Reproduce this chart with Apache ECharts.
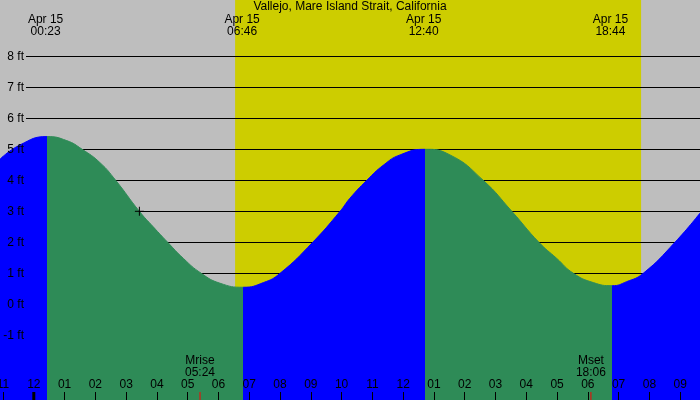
<!DOCTYPE html>
<html lang="en">
<head>
    <meta charset="UTF-8">
    <title>Vallejo tides</title>
    <script src="https://cdn.jsdelivr.net/npm/echarts@6/dist/echarts.min.js"></script>
</head>
<style>
    html, body {
        margin: 0;
        height: 100%;
    }
</style>
<body>
<div id="main" style="width: 700px;height:400px"></div>
<script type="text/javascript">
    // tide curve (hours from midnight Apr 15, feet)
    var tideHours = [-1.10, -0.45, 0.43, 1.07, 1.57, 2.15, 2.66, 3.43, 3.88, 4.35, 4.86, 5.44, 6.05, 6.80,
        7.46, 8.00, 9.06, 9.95, 10.27, 10.82, 11.36, 11.90, 12.71, 13.52, 14.60, 15.53, 16.41, 16.99,
        17.53, 18.18, 18.79, 19.26, 19.80, 20.83, 21.65];
    var tideFeet = [4.68, 5.14, 5.41, 5.28, 5.00, 4.57, 4.00, 3.00, 2.50, 2.00, 1.48, 1.00, 0.68, 0.55,
        0.70, 1.00, 2.00, 3.00, 3.42, 4.00, 4.49, 4.82, 5.00, 4.82, 4.00, 3.00, 2.00, 1.48,
        1.00, 0.70, 0.60, 0.73, 1.00, 2.00, 2.95];
    var turnHours = [0.43, 6.80, 12.71, 18.79];          // where fill switches rising/falling
    var extremeTimes = ['00:23', '06:46', '12:40', '18:44'];
    var extremeDate = 'Apr 15';
    var dayBand = [6.54, 19.73];                          // sunrise .. sunset
    var moonEvents = [['Mrise', '05:24'], ['Mset', '18:06']];
    var nowPoint = [3.43, 3.0];
    var feetLabels = [-1, 0, 1, 2, 3, 4, 5, 6, 7, 8];
    var feetLines = [1, 2, 3, 4, 5, 6, 7, 8];
    var hourTicks = [-1, 0, 1, 2, 3, 4, 5, 6, 7, 8, 9, 10, 11, 12, 13, 14, 15, 16, 17, 18, 19, 20, 21];
    var hourLabels = ['11', '12', '01', '02', '03', '04', '05', '06', '07', '08', '09', '10', '11',
        '12', '01', '02', '03', '04', '05', '06', '07', '08', '09'];

    var BLUE = '#0000FF', GREEN = '#2E8B57', GREY = '#BEBEBE', DAY = '#CDCD00';
    var FONT = 'Liberation Sans';

    // axis extents (31 px per foot, 30.78 px per hour, midnight at 33.8 px)
    var xMin = -33.8 / 30.78, xMax = (700 - 33.8) / 30.78;
    var yMax = 304.3 / 31, yMin = (304.3 - 400) / 31;
    var gridStart = (26 - 33.8) / 30.78;

    function toHour(s) {
        var p = s.split(':');
        return +p[0] + p[1] / 60;
    }

    var tideData = tideHours.map(function (h, i) { return [h, tideFeet[i]]; });

    var pieces = [];
    var edges = [-Infinity].concat(turnHours, [Infinity]);
    for (var i = 0; i < edges.length - 1; i++) {
        var pc = {color: i % 2 === 0 ? BLUE : GREEN};
        if (edges[i] !== -Infinity) pc.gte = edges[i];
        if (edges[i + 1] !== Infinity) pc.lt = edges[i + 1];
        pieces.push(pc);
    }

    var txt = {color: '#000', fontFamily: FONT, fontSize: 12};

    var myChart = echarts.init(document.getElementById('main'));
    var option = {
        animation: false,
        backgroundColor: GREY,
        textStyle: {fontFamily: FONT},
        title: {
            text: 'Vallejo, Mare Island Strait, California',
            left: 'center', top: 0, padding: [1, 5, 5, 5],
            textStyle: {color: '#000', fontFamily: FONT, fontSize: 12, fontWeight: 'normal'}
        },
        grid: {left: 0, right: 0, top: 0, bottom: 0, containLabel: false, outerBoundsMode: 'none'},
        xAxis: {
            type: 'value', min: xMin, max: xMax,
            axisLine: {show: false, onZero: false},
            splitLine: {show: false},
            axisTick: {show: true, inside: true, length: 8, customValues: hourTicks,
                lineStyle: {color: '#000', width: 1}},
            axisLabel: {
                show: true, inside: true, margin: 9, customValues: hourTicks,
                color: '#000', fontFamily: FONT, fontSize: 12,
                formatter: function (v) { return hourLabels[hourTicks.indexOf(Math.round(v))]; }
            },
            z: 10
        },
        yAxis: {type: 'value', min: yMin, max: yMax, show: false},
        visualMap: {show: false, type: 'piecewise', dimension: 0, seriesIndex: 2, pieces: pieces},
        series: [
            {
                name: 'day', type: 'line', data: [], z: 0, silent: true,
                markArea: {silent: true, z: 0, itemStyle: {color: DAY, opacity: 1},
                    data: [[{xAxis: dayBand[0]}, {xAxis: dayBand[1]}]]}
            },
            {
                name: 'grid', type: 'line', data: [], z: 1, silent: true,
                markLine: {
                    silent: true, z: 1, symbol: 'none', label: {show: false},
                    lineStyle: {color: '#000', width: 1, type: 'solid'},
                    data: feetLines.map(function (v) { return [{coord: [gridStart, v]}, {coord: [xMax, v]}]; })
                }
            },
            {
                name: 'tide', type: 'line', data: tideData, z: 2, smooth: 0.5,
                showSymbol: false, silent: true,
                lineStyle: {width: 1},
                areaStyle: {opacity: 1, origin: 'start'}
            },
            {
                name: 'labels', type: 'line', data: [], z: 10, silent: true,
                markLine: {
                    silent: true, z: 10, symbol: 'none',
                    lineStyle: {color: 'rgba(0,0,0,0)', width: 1, type: 'solid'},
                    label: {show: true, position: 'start', distance: 2, color: '#000', fontFamily: FONT, fontSize: 12,
                        formatter: function (p) { return p.name; }},
                    data: feetLabels.map(function (v) {
                        return [{name: v + ' ft', coord: [gridStart, v]}, {coord: [xMax, v]}];
                    })
                },
                markPoint: {
                    silent: true, z: 10,
                    data: extremeTimes.map(function (t) {
                        return {
                            name: extremeDate + '\n' + t, coord: [toHour(t), yMax], symbol: 'rect', symbolSize: 0,
                            label: Object.assign({show: true, position: 'bottom', distance: 14, lineHeight: 12,
                                formatter: '{b}'}, txt)
                        };
                    }).concat(moonEvents.map(function (m) {
                        return {
                            name: m[0] + '\n' + m[1], coord: [toHour(m[1]), yMin], symbol: 'rect',
                            symbolSize: [1, 8], symbolOffset: [0, -4], itemStyle: {color: '#FF0000'},
                            label: Object.assign({show: true, position: 'top', distance: 13, lineHeight: 12,
                                formatter: '{b}'}, txt)
                        };
                    })).concat([{
                        name: 'midnight', coord: [0, yMin], symbol: 'rect', symbolSize: [3, 8],
                        symbolOffset: [0, -4], itemStyle: {color: '#000'}, label: {show: false}
                    }, {
                        name: 'now-h', coord: nowPoint, symbol: 'rect', symbolSize: [9, 1],
                        itemStyle: {color: '#000'}, label: {show: false}
                    }, {
                        name: 'now-v', coord: nowPoint, symbol: 'rect', symbolSize: [1, 9],
                        itemStyle: {color: '#000'}, label: {show: false}
                    }])
                }
            }
        ]
    };
    myChart.setOption(option);
</script>
</body>
</html>
